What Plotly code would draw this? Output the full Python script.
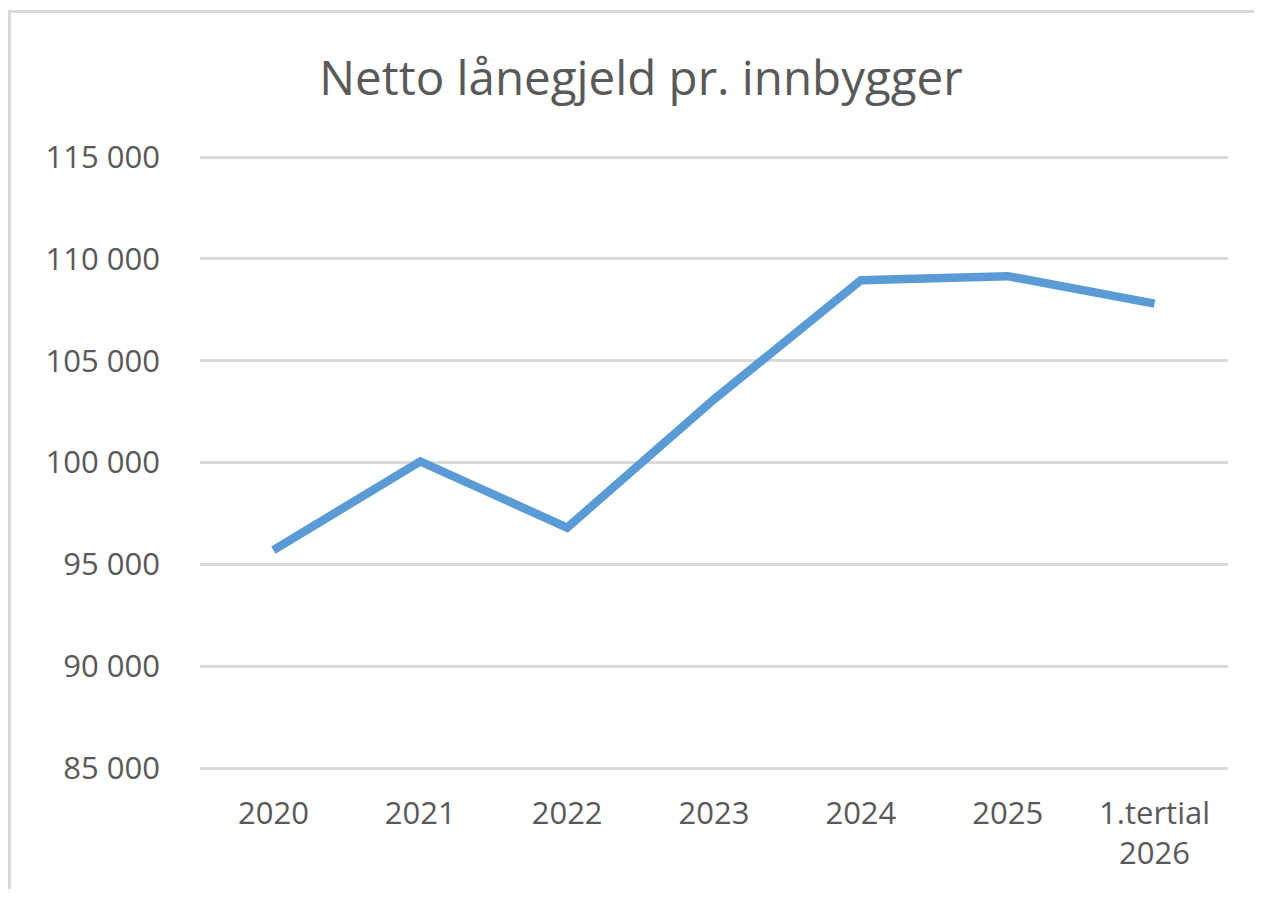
import plotly.graph_objects as go

categories = ["2020", "2021", "2022", "2023", "2024", "2025", "1.tertial<br>2026"]
values = [95700, 100050, 96800, 103100, 108950, 109150, 107800]
y_ticks = [85000, 90000, 95000, 100000, 105000, 110000, 115000]

# page has an 8px body margin, so figure coordinates = screen - 8
OFF = 8
PAD = 3  # extra pixels so the edge gridlines are not clipped
W, H = 1262 - 2 * OFF, 897 - 2 * OFF
L, R = 200 - OFF, W - (1228 - OFF)
T, B = 157 - OFF - PAD, H - (768 - OFF) - PAD
pw, ph = W - L - R, H - T - B
units_per_px = (115000 - 85000) / (768 - 157)
ypad = PAD * units_per_px

fig = go.Figure()
fig.add_trace(go.Scatter(
    x=list(range(len(categories))), y=values, mode="lines",
    line=dict(color="#5B9BD5", width=8.5, shape="linear"),
    hoverinfo="skip", showlegend=False,
))

font_family = "Open Sans, Lato, Liberation Sans, sans-serif"

fig.update_layout(
    width=W, height=H,
    margin=dict(l=L, r=R, t=T, b=B),
    paper_bgcolor="white", plot_bgcolor="white",
    separators=", ",
    title=dict(text="Netto lånegjeld pr. innbygger", x=(641 - OFF) / W, xanchor="center",
               y=1 - (78 - OFF) / H, yanchor="middle",
               font=dict(family=font_family, size=47.5, color="#595959")),
    xaxis=dict(
        range=[-0.5, len(categories) - 0.5],
        tickmode="array", tickvals=list(range(len(categories))), ticktext=categories,
        showgrid=False, zeroline=False, showline=False, ticks="",
        ticklabelstandoff=18 + PAD,
        tickfont=dict(family=font_family, size=31, color="#595959"),
        fixedrange=True,
    ),
    yaxis=dict(
        range=[85000 - ypad, 115000 + ypad],
        tickmode="array", tickvals=y_ticks,
        ticktext=[f"{v:,}".replace(",", " ") for v in y_ticks],
        showgrid=True, gridcolor="#D9D9D9", gridwidth=2.5,
        zeroline=False, showline=False, ticks="",
        ticklabelstandoff=39,
        tickfont=dict(family=font_family, size=31, color="#595959"),
        fixedrange=True,
    ),
    shapes=[dict(
        type="rect", xref="paper", yref="paper",
        x0=(9.5 - 200) / pw, x1=(1262 + 50 - 200) / pw,
        y0=(768 + PAD - (897 + 50)) / ph, y1=(768 + PAD - 11.5) / ph,
        line=dict(color="#D9D9D9", width=3), fillcolor="rgba(0,0,0,0)", layer="below",
    )],
)

fig.write_html("out.html", config={"displayModeBar": False})
